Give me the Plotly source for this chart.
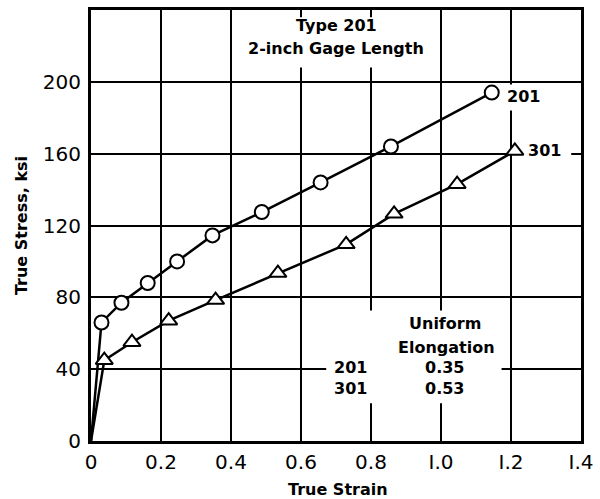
import plotly.graph_objects as go

# True stress / true strain data (ksi)
strain_201 = [0.0, 0.030, 0.087, 0.162, 0.246, 0.347, 0.488, 0.656, 0.857, 1.145]
stress_201 = [0.0, 66.0, 77.0, 88.0, 100.0, 114.5, 127.5, 144.0, 164.0, 194.0]

strain_301 = [0.0, 0.038, 0.117, 0.222, 0.356, 0.534, 0.729, 0.866, 1.046, 1.211]
stress_301 = [0.0, 45.0, 55.0, 67.0, 78.5, 93.5, 109.5, 126.5, 143.0, 161.5]

x_ticks = [0, 0.2, 0.4, 0.6, 0.8, 1.0, 1.2, 1.4]
x_ticktext = ["0", "0.2", "0.4", "0.6", "0.8", "I.0", "I.2", "I.4"]
y_ticks = [0, 40, 80, 120, 160, 200]

alloys = ["201", "301"]
uniform_elongation = ["0.35", "0.53"]

TICK_FONT = dict(family="DejaVu Sans", size=20, color="black")
BOLD = "DejaVu Sans"

fig = go.Figure()

for xs, ys, sym in [(strain_201, stress_201, "circle"), (strain_301, stress_301, "triangle-up")]:
    fig.add_trace(go.Scatter(
        x=xs, y=ys, mode="lines",
        line=dict(color="black", width=2.5),
        hoverinfo="skip", showlegend=False,
    ))
    fig.add_trace(go.Scatter(
        x=xs[1:], y=ys[1:], mode="markers",
        marker=dict(symbol=sym, size=14 if sym == "circle" else 15, color="white",
                    line=dict(color="black", width=2)),
        showlegend=False,
    ))

# white panels that break the grid behind the text blocks
white_boxes = [
    (0.436, 0.966, 208, 236),   # title block
    (0.672, 1.173, 21, 72.6),   # uniform elongation table
    (1.180, 1.290, 184, 198.5), # 201 curve label
    (1.232, 1.372, 155, 168),   # 301 curve label
]
for x0, x1, y0, y1 in white_boxes:
    fig.add_shape(type="rect", xref="x", yref="y", x0=x0, x1=x1, y0=y0, y1=y1,
                  fillcolor="white", line=dict(width=0), layer="between")

def label(text, x, y, size=16):
    fig.add_annotation(x=x, y=y, xref="x", yref="y", text=f"<b>{text}</b>",
                       showarrow=False, xanchor="center", yanchor="middle",
                       font=dict(family=BOLD, size=size, color="black"))

label("Type 201", 0.700, 231.5)
label("2-inch Gage Length", 0.700, 218.5)

# curve end labels
label(alloys[0], 1.236, 191.7)
label(alloys[1], 1.295, 161.8)

# uniform elongation table
label("Uniform", 1.012, 65.4)
label("Elongation", 1.017, 52.1)
for i, (a, ue) in enumerate(zip(alloys, uniform_elongation)):
    yy = 41.0 - i * 11.6
    label(a, 0.742, yy)
    label(ue, 1.009, yy)

# axis titles
fig.add_annotation(xref="paper", yref="paper", x=0.504, y=-0.112,
                   text="<b>True Strain</b>", showarrow=False,
                   xanchor="center", yanchor="middle",
                   font=dict(family=BOLD, size=16, color="black"))
fig.add_annotation(xref="paper", yref="paper", x=-0.1417, y=0.5,
                   text="<b>True Stress, ksi</b>", showarrow=False, textangle=-90,
                   xanchor="center", yanchor="middle",
                   font=dict(family=BOLD, size=16, color="black"))

axis_common = dict(
    showgrid=True, gridcolor="black", gridwidth=1.6,
    zeroline=False, showline=True, linecolor="black", linewidth=3,
    mirror=True, ticks="", tickfont=TICK_FONT,
)

fig.update_xaxes(range=[0, 1.4], tickvals=x_ticks, ticktext=x_ticktext,
                 ticklabelstandoff=1, **axis_common)
fig.update_yaxes(range=[0, 240], tickvals=y_ticks, ticklabelstandoff=3, **axis_common)

fig.update_layout(
    width=600, height=499,
    margin=dict(l=91, r=15, t=7, b=58),
    paper_bgcolor="white", plot_bgcolor="white",
    showlegend=False,
)

fig.write_html("out.html")
